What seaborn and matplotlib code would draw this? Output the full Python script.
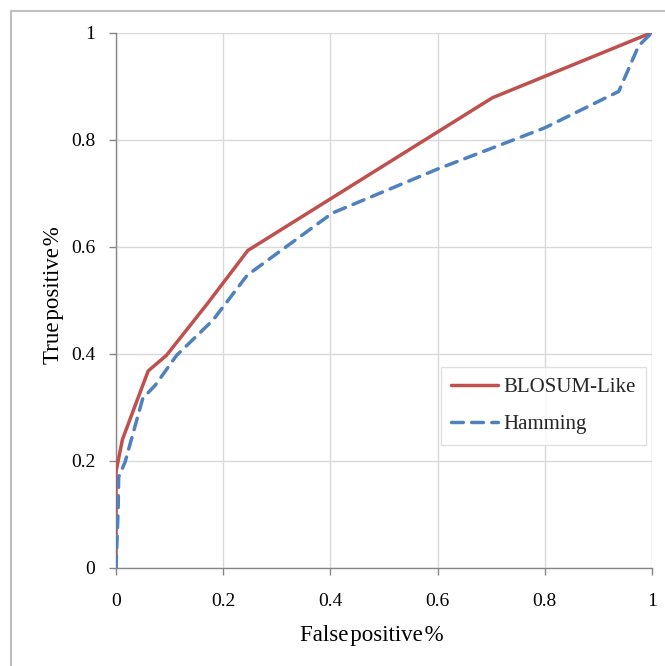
import matplotlib
matplotlib.use("Agg")
import matplotlib.pyplot as plt
import seaborn as sns
import pandas as pd
from matplotlib.lines import Line2D

# ROC curves for two similarity measures
blosum_fp = [0.0, 0.0, 0.012, 0.060, 0.094, 0.170, 0.246, 0.702, 1.0]
blosum_tp = [0.0, 0.180, 0.240, 0.368, 0.397, 0.493, 0.593, 0.878, 1.0]

hamming_fp = [0.0, 0.004, 0.005, 0.017, 0.050, 0.073, 0.113, 0.181, 0.245,
              0.404, 0.600, 0.800, 0.938, 0.975, 1.0]
hamming_tp = [0.0, 0.110, 0.170, 0.198, 0.317, 0.341, 0.397, 0.463, 0.547,
              0.663, 0.745, 0.822, 0.890, 0.975, 1.0]

tick_values = [0, 0.2, 0.4, 0.6, 0.8, 1]
tick_labels = ["0", "0.2", "0.4", "0.6", "0.8", "1"]

series_names = ["BLOSUM-Like", "Hamming"]
x_title = "False\u200apositive\u200a%"
y_title = "True\u200apositive\u200a%"
red = "#C0504D"
blue = "#4F81BD"
lw = 2.5
dash_pattern = [3.4, 2.4]

sns.set_theme(style="white")
plt.rcParams["font.family"] = ["Liberation Serif", "DejaVu Serif"]

fig = plt.figure(figsize=(6.65, 6.66), dpi=100)
ax = fig.add_axes([116 / 665, 1 - 568 / 666, 536 / 665, 535.5 / 666])

df_b = pd.DataFrame({"fp": blosum_fp, "tp": blosum_tp})
df_h = pd.DataFrame({"fp": hamming_fp, "tp": hamming_tp})

sns.lineplot(data=df_b, x="fp", y="tp", sort=False, estimator=None, ax=ax,
             color=red, linewidth=lw, solid_capstyle="round", zorder=3)
sns.lineplot(data=df_h, x="fp", y="tp", sort=False, estimator=None, ax=ax,
             color=blue, linewidth=lw, zorder=3)
hline = ax.get_lines()[-1]
hline.set_dashes(dash_pattern)
hline.set_dash_capstyle("round")

ax.set_xlim(0, 1)
ax.set_ylim(0, 1)
ax.set_xticks(tick_values)
ax.set_xticklabels(tick_labels)
ax.set_yticks(tick_values)
ax.set_yticklabels(tick_labels)

ax.grid(True, color="#d9d9d9", linewidth=1.0)
ax.set_axisbelow(True)
for side in ["top", "right"]:
    ax.spines[side].set_visible(False)
for side in ["left", "bottom"]:
    ax.spines[side].set_color("#868686")
    ax.spines[side].set_linewidth(1.0)

ax.tick_params(axis="both", which="major", length=5, width=1.0,
               color="#868686", labelsize=14, labelcolor="black",
               direction="out", left=True, bottom=True)
ax.tick_params(axis="x", pad=13)
ax.tick_params(axis="y", pad=10)

ax.set_xlabel(x_title, fontsize=16.5, color="black")
ax.set_ylabel(y_title, fontsize=16.5, color="black")
ax.xaxis.label.set_va("center")
ax.yaxis.label.set_va("center")
ax.xaxis.set_label_coords((372 - 116) / 536, (568 - 636) / 535.5)
ax.yaxis.set_label_coords((54 - 116) / 536, (568 - 295.5) / 535.5)

handles = [
    Line2D([], [], color=red, linewidth=lw, solid_capstyle="round"),
    Line2D([], [], color=blue, linewidth=lw, dashes=dash_pattern,
           dash_capstyle="round"),
]
leg = ax.legend(handles, series_names, loc="upper right",
                bbox_to_anchor=(0.989, 0.375), borderaxespad=0,
                fontsize=15, frameon=True, fancybox=False,
                edgecolor="#d9d9d9", handlelength=2.25, handletextpad=0.25,
                labelspacing=0.85, borderpad=0.5)
leg.get_frame().set_linewidth(1.0)

# thin frame along the top and left edges of the figure
fig.add_artist(Line2D([11 / 665, 1], [1 - 11 / 666, 1 - 11 / 666],
                      transform=fig.transFigure, color="#bfbfbf", linewidth=1.5))
fig.add_artist(Line2D([11 / 665, 11 / 665], [0, 1 - 11 / 666],
                      transform=fig.transFigure, color="#bfbfbf", linewidth=1.5))

fig.savefig("out.png", dpi=100)
